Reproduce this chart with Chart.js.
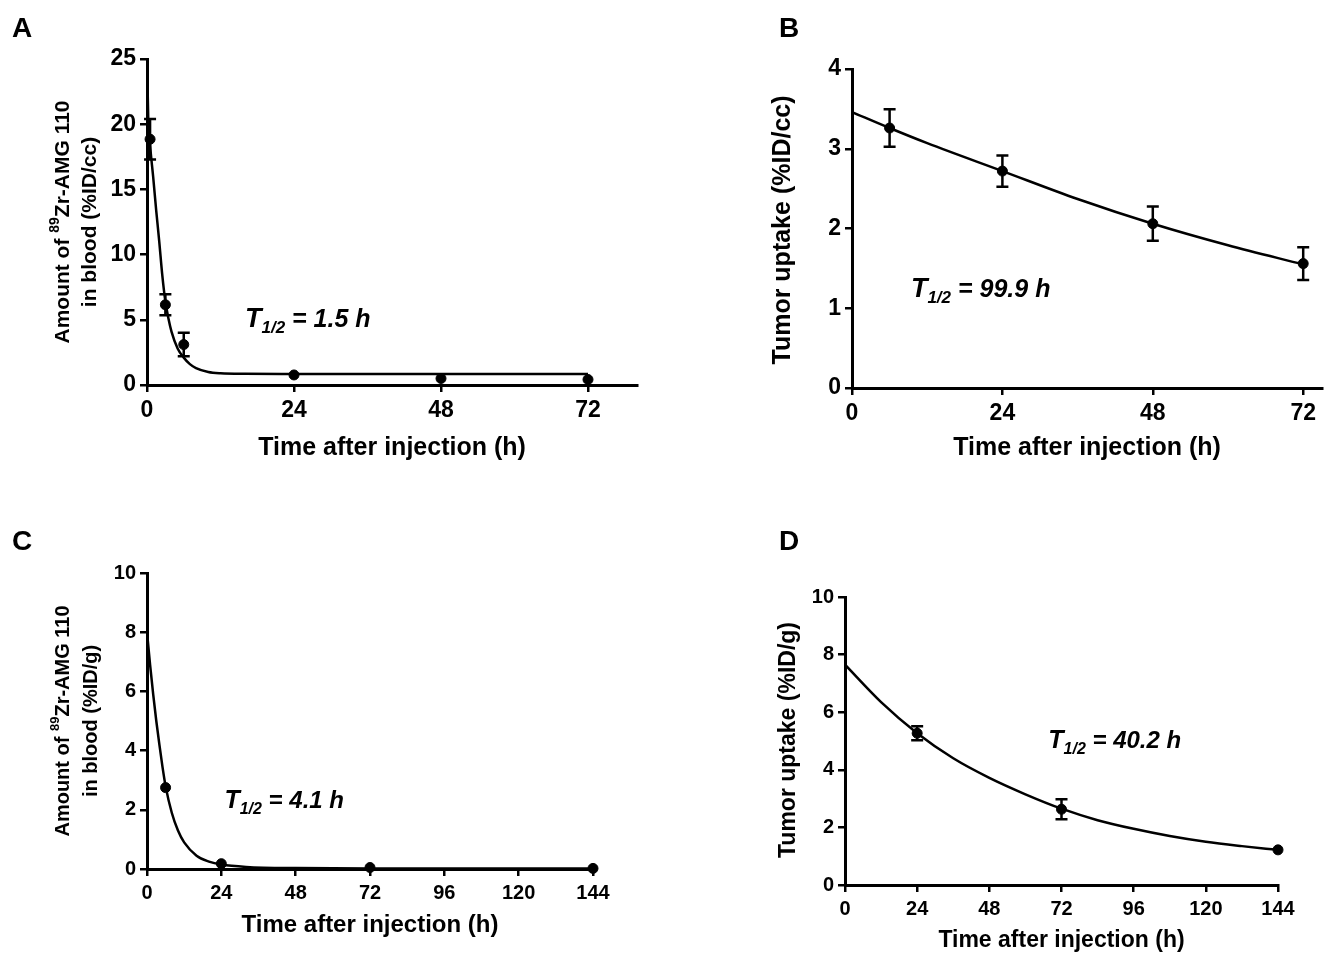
<!DOCTYPE html>
<html>
<head>
<meta charset="utf-8">
<script src="https://cdn.jsdelivr.net/npm/chart.js@4.4.0/dist/chart.umd.min.js"></script>
<style>
  body { margin: 0; background: #fff; }
  #wrap { position: relative; width: 1328px; height: 954px; }
  canvas { position: absolute; }
</style>
</head>
<body>
<div id="wrap">
  <canvas id="chartA" width="664" height="477" style="left:0;top:0"></canvas>
  <canvas id="chartB" width="664" height="477" style="left:664px;top:0"></canvas>
  <canvas id="chartC" width="664" height="477" style="left:0;top:477px"></canvas>
  <canvas id="chartD" width="664" height="477" style="left:664px;top:477px"></canvas>
</div>
<script>
// ---- Panel A: blood, %ID/cc ----
const timeA = [0.5, 3, 6, 24, 48, 72];
const meanA = [18.85, 6.15, 3.1, 0.77, 0.5, 0.42];
const errA = [1.55, 0.8, 0.9, 0, 0, 0];
const fitTimeA = [0, 0.2, 0.5, 1, 1.5, 2, 2.5, 3, 3.5, 4, 5, 6, 7, 8, 10, 12, 16, 24, 48, 72];
const fitA = [25, 20.5, 18.4, 16, 13.4, 11, 8.4, 6.4, 5.1, 4.1, 2.8, 2.1, 1.6, 1.3, 1.0, 0.9, 0.86, 0.85, 0.85, 0.85];
const xTicksA = [0, 24, 48, 72];
const yTicksA = [0, 5, 10, 15, 20, 25];

// ---- Panel B: tumor, %ID/cc ----
const timeB = [6, 24, 48, 72];
const meanB = [3.26, 2.72, 2.06, 1.56];
const errB = [0.235, 0.195, 0.215, 0.205];
const fitTimeB = [0, 6, 12, 24, 36, 48, 60, 72];
const fitB = [3.46, 3.26, 3.07, 2.72, 2.37, 2.06, 1.79, 1.55];
const xTicksB = [0, 24, 48, 72];
const yTicksB = [0, 1, 2, 3, 4];

// ---- Panel C: blood, %ID/g ----
const timeC = [6, 24, 72, 144];
const meanC = [2.75, 0.18, 0.05, 0.02];
const errC = [0, 0, 0, 0];
const fitTimeC = [0, 1, 2, 3, 4, 5, 6, 8, 10, 12, 16, 20, 24, 32, 48, 72, 144];
const fitC = [8.0, 6.9, 5.9, 5.0, 4.2, 3.45, 2.8, 1.9, 1.3, 0.9, 0.45, 0.25, 0.15, 0.07, 0.03, 0.02, 0.02];
const xTicksC = [0, 24, 48, 72, 96, 120, 144];
const yTicksC = [0, 2, 4, 6, 8, 10];

// ---- Panel D: tumor, %ID/g ----
const timeD = [24, 72, 144];
const meanD = [5.27, 2.63, 1.22];
const errD = [0.24, 0.35, 0];
const fitTimeD = [0, 12, 24, 36, 48, 60, 72, 84, 96, 108, 120, 132, 144];
const fitD = [7.65, 6.35, 5.27, 4.4, 3.72, 3.15, 2.65, 2.25, 1.95, 1.7, 1.5, 1.35, 1.22];
const xTicksD = [0, 24, 48, 72, 96, 120, 144];
const yTicksD = [0, 2, 4, 6, 8, 10];

const FONT = "'Liberation Sans', Arial, Helvetica, sans-serif";

function fontFor(r) {
  return (r.italic ? 'italic ' : '') + 'bold ' + r.size + 'px ' + FONT;
}

// error bars drawn through the chart's own scales
const errorBarPlugin = {
  id: 'errorBars',
  afterDatasetsDraw(chart) {
    const { ctx } = chart;
    const xs = chart.scales.x, ys = chart.scales.y;
    chart.data.datasets.forEach(ds => {
      if (!ds.errorBars) return;
      ctx.save();
      ctx.strokeStyle = '#000';
      ctx.lineWidth = 2.5;
      ds.data.forEach((p, i) => {
        const e = ds.errorBars[i];
        if (!e) return;
        const px = xs.getPixelForValue(p.x);
        const top = ys.getPixelForValue(p.y + e);
        const bot = ys.getPixelForValue(p.y - e);
        ctx.beginPath();
        ctx.moveTo(px, top); ctx.lineTo(px, bot);
        ctx.moveTo(px - 6, top); ctx.lineTo(px + 6, top);
        ctx.moveTo(px - 6, bot); ctx.lineTo(px + 6, bot);
        ctx.stroke();
      });
      ctx.restore();
    });
  }
};

// text with mixed sizes (superscripts, subscripts)
function labelPlugin(items) {
  return {
    id: 'labels',
    afterDraw(chart) {
      const ctx = chart.ctx;
      items.forEach(it => {
        let px = it.x, py = it.y;
        if (it.data) {
          px = chart.scales.x.getPixelForValue(it.x);
          py = chart.scales.y.getPixelForValue(it.y);
        }
        ctx.save();
        ctx.fillStyle = '#000';
        ctx.textAlign = 'left';
        ctx.textBaseline = it.baseline || 'alphabetic';
        ctx.translate(px, py);
        if (it.rotate) ctx.rotate(-Math.PI / 2);
        const widths = it.runs.map(r => { ctx.font = fontFor(r); return ctx.measureText(r.text).width; });
        const total = widths.reduce((a, b) => a + b, 0);
        let cx = it.align === 'center' ? -total / 2 : 0;
        it.runs.forEach((r, i) => {
          ctx.font = fontFor(r);
          ctx.fillText(r.text, cx, r.dy || 0);
          cx += widths[i];
        });
        ctx.restore();
      });
    }
  };
}

function makeChart(id, cfg) {
  const g = cfg.geo;
  const tickFont = { family: FONT, weight: 'bold', size: cfg.tickSize };
  const axis = {
    border: { color: '#000', width: 3 },
    grid: { drawOnChartArea: false, color: '#000', lineWidth: 2.5, tickLength: 7 }
  };
  return new Chart(document.getElementById(id), {
    type: 'scatter',
    data: {
      datasets: [{
        data: cfg.fitX.map((t, i) => ({ x: t, y: cfg.fitY[i] })),
        showLine: true,
        borderColor: '#000',
        borderWidth: 2.5,
        pointRadius: 0,
        cubicInterpolationMode: 'monotone',
        fill: false
      }, {
        data: cfg.ptX.map((t, i) => ({ x: t, y: cfg.ptY[i] })),
        errorBars: cfg.err,
        pointRadius: 5,
        backgroundColor: '#000',
        borderColor: '#000',
        clip: false
      }]
    },
    options: {
      responsive: false,
      animation: false,
      events: [],
      layout: { padding: { left: 0, top: g.top, right: g.right, bottom: 0 } },
      plugins: { legend: { display: false }, tooltip: { enabled: false } },
      scales: {
        x: {
          ...axis,
          type: 'linear',
          min: 0,
          max: cfg.xMax,
          afterBuildTicks: s => { s.ticks = cfg.xTicks.map(v => ({ value: v })); },
          afterFit: s => { s.height = g.xh; s.paddingLeft = 0; s.paddingRight = 0; },
          ticks: { color: '#000', font: tickFont, padding: 5, maxRotation: 0, autoSkip: false },
          title: {
            display: true,
            text: 'Time after injection (h)',
            color: '#000',
            font: { family: FONT, weight: 'bold', size: cfg.xTitleSize },
            padding: { top: 0, bottom: cfg.xTitlePad }
          }
        },
        y: {
          ...axis,
          type: 'linear',
          min: 0,
          max: cfg.yTicks[cfg.yTicks.length - 1],
          afterBuildTicks: s => { s.ticks = cfg.yTicks.map(v => ({ value: v })); },
          afterFit: s => { s.width = g.left; s.paddingTop = 0; s.paddingBottom = 0; },
          ticks: { color: '#000', font: tickFont, padding: 4 }
        }
      }
    },
    plugins: [errorBarPlugin, labelPlugin(cfg.items)]
  });
}

makeChart('chartA', {
  fitX: fitTimeA, fitY: fitA, ptX: timeA, ptY: meanA, err: errA,
  xMax: 80, xTicks: xTicksA, yTicks: yTicksA, tickSize: 23,
  xTitleSize: 25, xTitlePad: 14,
  geo: { left: 147, top: 59, right: 27, xh: 92 },
  items: [
    { x: 12, y: 37, runs: [{ text: 'A', size: 28 }] },
    { x: 63, y: 222, rotate: true, align: 'center', baseline: 'middle',
      runs: [{ text: 'Amount of ', size: 21 }, { text: '89', size: 14, dy: -8 }, { text: 'Zr-AMG 110', size: 21 }] },
    { x: 90, y: 222, rotate: true, align: 'center', baseline: 'middle',
      runs: [{ text: 'in blood (%ID/cc)', size: 21 }] },
    { data: true, x: 16, y: 4.45,
      runs: [{ text: 'T', size: 27, italic: true }, { text: '1/2', size: 17, italic: true, dy: 6 }, { text: ' = 1.5 h', size: 25, italic: true }] }
  ]
});

makeChart('chartB', {
  fitX: fitTimeB, fitY: fitB, ptX: timeB, ptY: meanB, err: errB,
  xMax: 75, xTicks: xTicksB, yTicks: yTicksB, tickSize: 23,
  xTitleSize: 25, xTitlePad: 14,
  geo: { left: 188, top: 69, right: 0, xh: 89 },
  items: [
    { x: 115, y: 37, runs: [{ text: 'B', size: 28 }] },
    { x: 119, y: 230, rotate: true, align: 'center', baseline: 'middle',
      runs: [{ text: 'Tumor uptake (%ID/cc)', size: 25 }] },
    { data: true, x: 9.4, y: 1.14,
      runs: [{ text: 'T', size: 27, italic: true }, { text: '1/2', size: 17, italic: true, dy: 6 }, { text: ' = 99.9 h', size: 25, italic: true }] }
  ]
});

makeChart('chartC', {
  fitX: fitTimeC, fitY: fitC, ptX: timeC, ptY: meanC, err: errC,
  xMax: 144, xTicks: xTicksC, yTicks: yTicksC, tickSize: 20,
  xTitleSize: 24, xTitlePad: 14,
  geo: { left: 147, top: 96, right: 71, xh: 85 },
  items: [
    { x: 12, y: 73, runs: [{ text: 'C', size: 28 }] },
    { x: 63, y: 244, rotate: true, align: 'center', baseline: 'middle',
      runs: [{ text: 'Amount of ', size: 20 }, { text: '89', size: 13, dy: -8 }, { text: 'Zr-AMG 110', size: 20 }] },
    { x: 91, y: 244, rotate: true, align: 'center', baseline: 'middle',
      runs: [{ text: 'in blood (%ID/g)', size: 20 }] },
    { data: true, x: 25, y: 2.05,
      runs: [{ text: 'T', size: 25, italic: true }, { text: '1/2', size: 16, italic: true, dy: 6 }, { text: ' = 4.1 h', size: 24, italic: true }] }
  ]
});

makeChart('chartD', {
  fitX: fitTimeD, fitY: fitD, ptX: timeD, ptY: meanD, err: errD,
  xMax: 144, xTicks: xTicksD, yTicks: yTicksD, tickSize: 20,
  xTitleSize: 23, xTitlePad: 0,
  geo: { left: 181, top: 120, right: 50, xh: 69 },
  items: [
    { x: 115, y: 73, runs: [{ text: 'D', size: 28 }] },
    { x: 125, y: 263, rotate: true, align: 'center', baseline: 'middle',
      runs: [{ text: 'Tumor uptake (%ID/g)', size: 23 }] },
    { data: true, x: 67.6, y: 4.75,
      runs: [{ text: 'T', size: 25, italic: true }, { text: '1/2', size: 16, italic: true, dy: 6 }, { text: ' = 40.2 h', size: 24, italic: true }] }
  ]
});
</script>
</body>
</html>
